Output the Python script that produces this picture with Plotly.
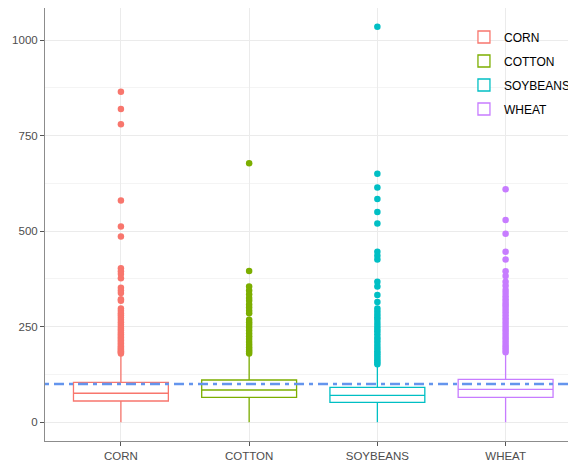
import plotly.graph_objects as go

categories = ["CORN", "COTTON", "SOYBEANS", "WHEAT"]
colors = ["#F8766D", "#7CAE00", "#00BFC4", "#C77CFF"]

q1_vals = [55.7, 65.4, 52.3, 65.4]
median_vals = [76.0, 84.5, 70.6, 86.3]
q3_vals = [104.6, 110.6, 91.5, 112.5]
lower_fence = [0, 0, 0, 0]
upper_fence = [176, 177, 148, 180]

outliers = {
    "CORN": [865, 820, 780, 580, 512, 486, 403, 395, 388, 377, 352, 345, 338, 322, 318,
             298, 292, 285, 280, 274, 268, 262, 256, 250, 245, 240, 235, 230, 226, 222,
             218, 214, 210, 206, 202, 198, 195, 192, 189, 186, 183, 180],
    "COTTON": [678, 396, 355, 345, 335, 325, 318, 308, 300, 292, 285, 268, 262, 255, 248,
               240, 232, 225, 218, 210, 203, 196, 190, 185, 180],
    "SOYBEANS": [1035, 650, 614, 584, 550, 520, 446, 436, 426, 368, 355, 333, 315, 298, 290,
                 282, 275, 268, 260, 252, 245, 238, 230, 222, 215, 208, 200, 193, 186, 180,
                 174, 168, 162, 157, 152],
    "WHEAT": [610, 529, 493, 446, 426, 395, 383, 368, 357, 346, 338, 330, 322, 315, 308, 302,
              295, 288, 280, 272, 265, 258, 250, 243, 236, 229, 222, 215, 208, 201, 195, 189, 183],
}

reference_level = 100
y_ticks = [0, 250, 500, 750, 1000]
y_minor = [125, 375, 625, 875]

fig = go.Figure()
for i, cat in enumerate(categories):
    fig.add_trace(go.Box(
        name=cat, x=[cat], q1=[q1_vals[i]], median=[median_vals[i]], q3=[q3_vals[i]],
        lowerfence=[lower_fence[i]], upperfence=[upper_fence[i]],
        width=0.74, whiskerwidth=0, boxpoints=False,
        line=dict(color=colors[i], width=1.3), fillcolor="white",
        legendgroup=cat, showlegend=True,
    ))
    pts = outliers[cat]
    fig.add_trace(go.Scatter(
        x=[cat] * len(pts), y=pts, mode="markers",
        marker=dict(color=colors[i], size=6.5, line=dict(width=0)),
        showlegend=False, legendgroup=cat, hoverinfo="y",
    ))

fig.add_shape(type="line", xref="paper", yref="y", x0=0, x1=1,
              y0=reference_level, y1=reference_level, layer="above",
              line=dict(color="#6495ED", width=2.6, dash="4px,5px,10px,5px"))

fig.update_layout(
    width=568, height=459,
    margin=dict(l=37, r=0, t=0, b=26),
    paper_bgcolor="white", plot_bgcolor="white",
    font=dict(family="Liberation Sans, Arial, sans-serif", size=12, color="#000000"),
    showlegend=True,
    legend=dict(x=0.789, y=0.9665, xanchor="left", yanchor="top",
                bgcolor="rgba(0,0,0,0)", font=dict(size=12, color="#000000"),
                tracegroupgap=5),
    boxmode="overlay",
)
fig.update_xaxes(
    type="category", categoryorder="array", categoryarray=categories,
    range=[-0.592, 3.549],
    showgrid=True, gridcolor="#EBEBEB", gridwidth=1,
    showline=True, linecolor="#8C8C8C", linewidth=1, mirror=True,
    ticks="outside", ticklen=4, tickcolor="#555555",
    tickfont=dict(size=11.5, color="#4D4D4D"), zeroline=False,
)
fig.update_yaxes(
    range=[-49, 1084], tickvals=y_ticks, ticktext=[str(v) for v in y_ticks],
    showgrid=True, gridcolor="#EBEBEB", gridwidth=1,
    minor=dict(tickvals=y_minor, showgrid=True, gridcolor="#F4F4F4", gridwidth=0.6, ticks=""),
    showline=True, linecolor="#8C8C8C", linewidth=1, mirror=False,
    ticks="outside", ticklen=4, tickcolor="#555555",
    tickfont=dict(size=11.5, color="#4D4D4D"), zeroline=False,
)

fig.write_html("out.html")
